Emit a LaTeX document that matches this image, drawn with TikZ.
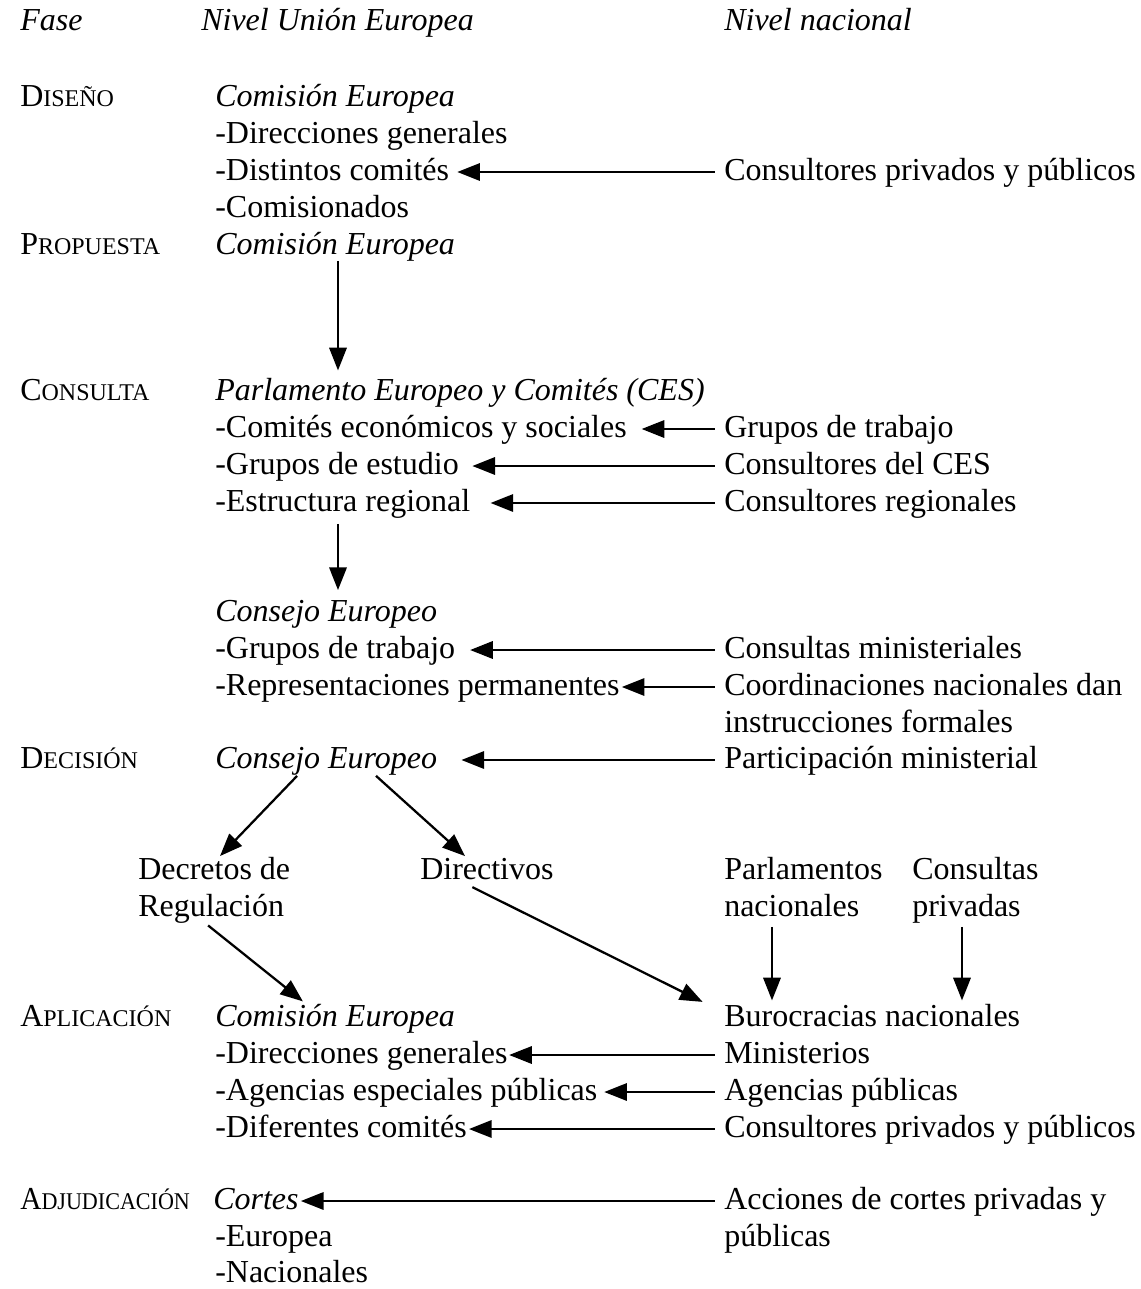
\documentclass[tikz,border=0pt]{standalone}
\usepackage{fontspec}
\usepackage{graphicx}
\setmainfont{Liberation Serif}
\usetikzlibrary{arrows.meta}
\newcommand{\fakesc}[2]{#1{\fontsize{18}{20}\selectfont #2}}
\begin{document}
\begin{tikzpicture}[x=0.75pt,y=-0.75pt,
  t/.style={anchor=base west, inner sep=0pt, text height=17pt, text depth=5pt, font=\fontsize{24}{28}\selectfont},
  arr/.style={line width=1.7pt, -{Triangle[length=17pt,width=13pt]}}]
\useasboundingbox (0,0) rectangle (1141,1289);

% headers
\node[t] (hfase) at (20,30) {\textit{Fase}};
\node[t] (hue) at (201,30) {\textit{Nivel Unión Europea}};
\node[t] (hnac) at (724,30) {\textit{Nivel nacional}};

% Diseño
\node[t] (fdis) at (20,106) {\fakesc{D}{ISEÑO}};
\node[t] (dce) at (215,106) {\textit{Comisión Europea}};
\node[t] (ddg) at (215,143) {-Direcciones generales};
\node[t] (ddc) at (215,180) {-Distintos comités};
\node[t] (dcom) at (215,217) {-Comisionados};
\node[t] (dcpp) at (724,180) {Consultores privados y públicos};

% Propuesta
\node[t] (fprop) at (20,254) {\fakesc{P}{ROPUESTA}};
\node[t] (pce) at (215,254) {\textit{Comisión Europea}};

% Consulta
\node[t] (fcons) at (20,400) {\fakesc{C}{ONSULTA}};
\node[t] (cpe) at (215,400) {\textit{Parlamento Europeo y Comités (CES)}};
\node[t] (cces) at (215,437) {-Comités económicos y sociales};
\node[t] (cge) at (215,474) {-Grupos de estudio};
\node[t] (cer) at (215,511) {-Estructura regional};
\node[t] (ngt) at (724,437) {Grupos de trabajo};
\node[t] (ncces) at (724,474) {Consultores del CES};
\node[t] (ncr) at (724,511) {Consultores regionales};

\node[t] (kce) at (215,621) {\textit{Consejo Europeo}};
\node[t] (kgt) at (215,658) {-Grupos de trabajo};
\node[t] (krp) at (215,695) {-Representaciones permanentes};
\node[t] (ncm) at (724,658) {Consultas ministeriales};
\node[t] (ncn) at (724,695) {Coordinaciones nacionales dan};
\node[t] (nif) at (724,732) {instrucciones formales};

% Decisión
\node[t] (fdec) at (20,768) {\fakesc{D}{ECISIÓN}};
\node[t] (ece) at (215,768) {\textit{Consejo Europeo}};
\node[t] (npm) at (724,768) {Participación ministerial};

\node[t] (dr1) at (138,879) {Decretos de};
\node[t] (dr2) at (138,916) {Regulación};
\node[t] (dir) at (420,879) {Directivos};
\node[t] (pn1) at (724,879) {Parlamentos};
\node[t] (pn2) at (724,916) {nacionales};
\node[t] (cp1) at (912,879) {Consultas};
\node[t] (cp2) at (912,916) {privadas};

% Aplicación
\node[t] (fapl) at (20,1026) {\fakesc{A}{PLICACIÓN}};
\node[t] (ace) at (215,1026) {\textit{Comisión Europea}};
\node[t] (adg) at (215,1063) {-Direcciones generales};
\node[t] (aaep) at (215,1100) {-Agencias especiales públicas};
\node[t] (adc) at (215,1137) {-Diferentes comités};
\node[t] (nbn) at (724,1026) {Burocracias nacionales};
\node[t] (nmin) at (724,1063) {Ministerios};
\node[t] (nap) at (724,1100) {Agencias públicas};
\node[t] (ncpp) at (724,1137) {Consultores privados y públicos};

% Adjudicación
\node[t] (fadj) at (20,1209) {\scalebox{0.92}[1]{\fakesc{A}{DJUDICACIÓN}}};
\node[t] (jc) at (213,1209) {\textit{Cortes}};
\node[t] (je) at (215,1246) {-Europea};
\node[t] (jn) at (215,1282) {-Nacionales};
\node[t] (nacc) at (724,1209) {Acciones de cortes privadas y};
\node[t] (npub) at (724,1246) {públicas};

% horizontal arrows
\draw[arr, shorten <=7pt, shorten >=6pt] (dcpp.west) -- (ddc.east);
\draw[arr, shorten <=7pt, shorten >=11pt] (ngt.west) -- (cces.east);
\draw[arr, shorten <=7pt, shorten >=10pt] (ncces.west) -- (cge.east);
\draw[arr, shorten <=7pt, shorten >=15pt] (ncr.west) -- (cer.east);
\draw[arr, shorten <=7pt, shorten >=11pt] (ncm.west) -- (kgt.east);
\draw[arr, shorten <=7pt, shorten >=1.5pt] (ncn.west) -- (krp.east);
\draw[arr, shorten <=7pt, shorten >=18pt] (npm.west) -- (ece.east);
\draw[arr, shorten <=7pt, shorten >=1pt] (nmin.west) -- (adg.east);
\draw[arr, shorten <=7pt, shorten >=5pt] (nap.west) -- (aaep.east);
\draw[arr, shorten <=7pt, shorten >=1.5pt] (ncpp.west) -- (adc.east);
\draw[arr, shorten <=7pt, shorten >=1.5pt] (nacc.west) -- (jc.east);

% vertical arrows
\draw[arr, shorten >=5pt] ([xshift=92.25pt]pce.south west) -- ([xshift=92.25pt]cpe.north west);
\draw[arr, shorten <=4.5pt, shorten >=6pt] ([xshift=92.25pt]cer.south west) -- ([xshift=92.25pt]kce.north west);

% diagonal arrows
\draw[arr, shorten <=1pt] ([xshift=62.25pt]ece.south west) -- ([xshift=61.5pt]dr1.north west);
\draw[arr, shorten <=1pt] ([xshift=120pt]ece.south west) -- ([xshift=33.75pt]dir.north west);
\draw[arr, shorten <=3pt, shorten >=2pt] ([xshift=50.25pt]dr2.south west) -- ([xshift=67.5pt]ace.north west);
\draw[arr, shorten <=2pt, shorten >=2pt] ([xshift=37.5pt]dir.south west) -- ([xshift=-14.25pt]nbn.north west);
\draw[arr, shorten <=3pt, shorten >=2pt] ([xshift=36pt]pn2.south west) -- ([xshift=36pt]pn2.south west |- nbn.north);
\draw[arr, shorten <=3pt, shorten >=2pt] ([xshift=37.5pt]cp2.south west) -- ([xshift=37.5pt]cp2.south west |- nbn.north);
\end{tikzpicture}
\end{document}
